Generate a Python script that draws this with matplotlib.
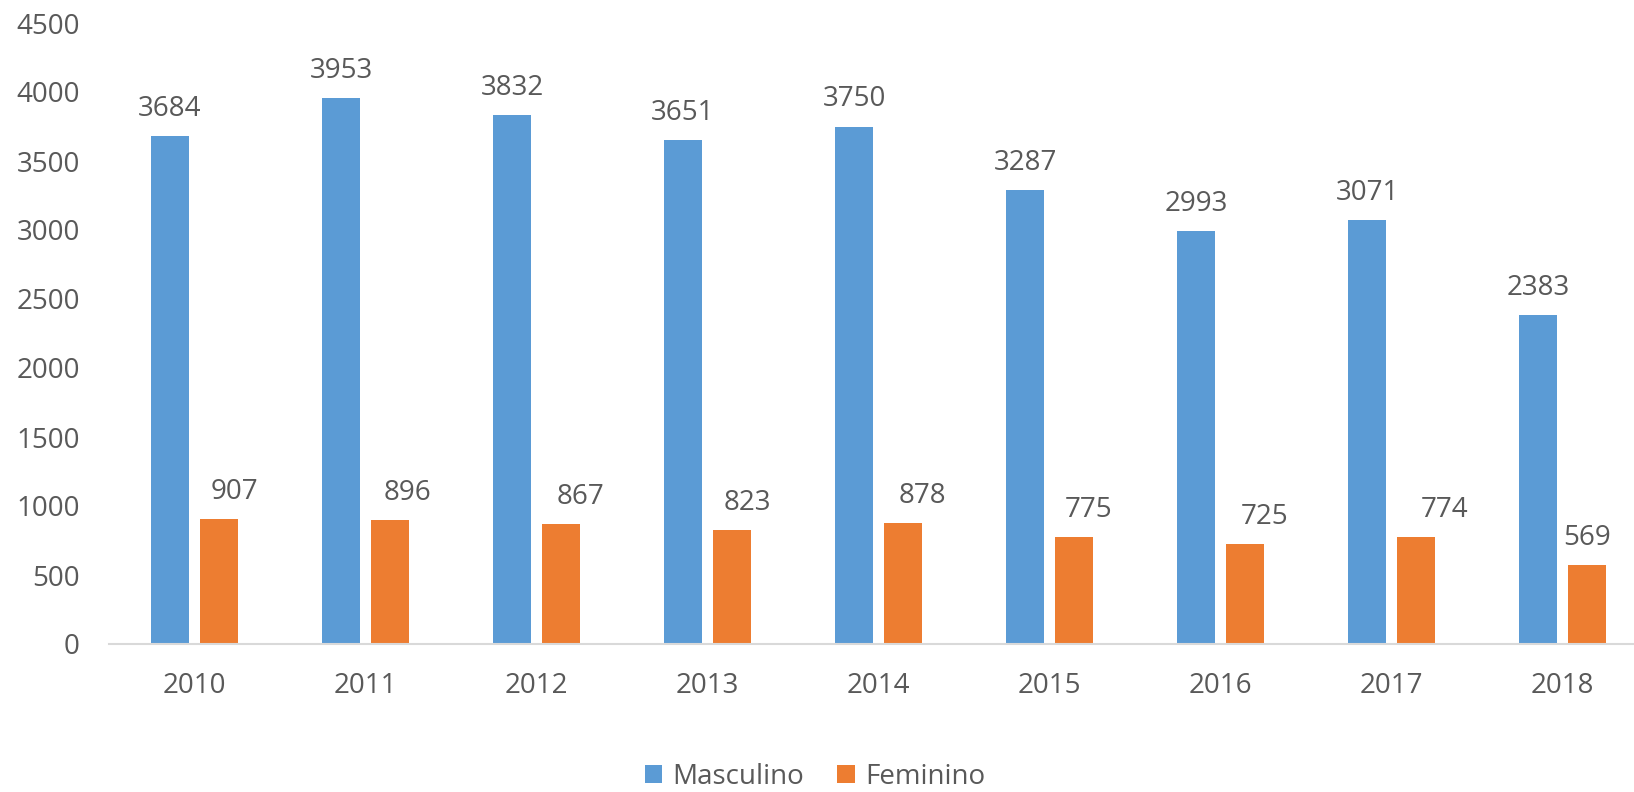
import matplotlib.pyplot as plt
import numpy as np

plt.rcParams['font.family'] = ['Open Sans', 'DejaVu Sans']

anos = ['2010', '2011', '2012', '2013', '2014', '2015', '2016', '2017', '2018']
masculino = [3684, 3953, 3832, 3651, 3750, 3287, 2993, 3071, 2383]
feminino = [907, 896, 867, 823, 878, 775, 725, 774, 569]

# deslocamento horizontal dos rótulos laranja (pixels), como no original
desloc_fem = [15, 18, 20, 15, 19, 15, 20, 29, 0]

azul = '#5B9BD5'
laranja = '#ED7D31'
cinza = '#595959'
fs = 20

W, H = 1634, 792
fig = plt.figure(figsize=(W / 100, H / 100), dpi=100)
ax = fig.add_axes([109 / W, 148 / H, 1539 / W, (644 - 23) / H])

x = np.arange(len(anos))
larg = 0.222
off = 0.143
b1 = ax.bar(x - off, masculino, larg, color=azul, label='Masculino')
b2 = ax.bar(x + off, feminino, larg, color=laranja, label='Feminino')

for xi, v in zip(x, masculino):
    ax.annotate(str(v), (xi - off, v), xytext=(0, 20), textcoords='offset pixels',
                ha='center', va='baseline', fontsize=fs, color=cinza)
for xi, v, d in zip(x, feminino, desloc_fem):
    ax.annotate(str(v), (xi + off, v), xytext=(d, 20), textcoords='offset pixels',
                ha='center', va='baseline', fontsize=fs, color=cinza)

ax.set_xlim(-0.5, len(anos) - 0.5)
ax.set_ylim(0, 4500)
ax.set_yticks(range(0, 4501, 500))
ax.set_xticks(x)
ax.set_xticklabels(anos)

for s in ['top', 'right', 'left']:
    ax.spines[s].set_visible(False)
ax.spines['bottom'].set_color('#D9D9D9')
ax.spines['bottom'].set_linewidth(1.5)
ax.tick_params(axis='both', length=0, labelsize=fs, labelcolor=cinza)
ax.tick_params(axis='y', pad=21)
ax.tick_params(axis='x', pad=20)

fig.legend(loc='center', bbox_to_anchor=(815 / W, 1 - 777 / H), ncol=2,
           frameon=False, fontsize=fs, labelcolor=cinza,
           handlelength=0.64, handleheight=0.64, handletextpad=0.36,
           columnspacing=1.2)

fig.savefig('out.png', dpi=100)
